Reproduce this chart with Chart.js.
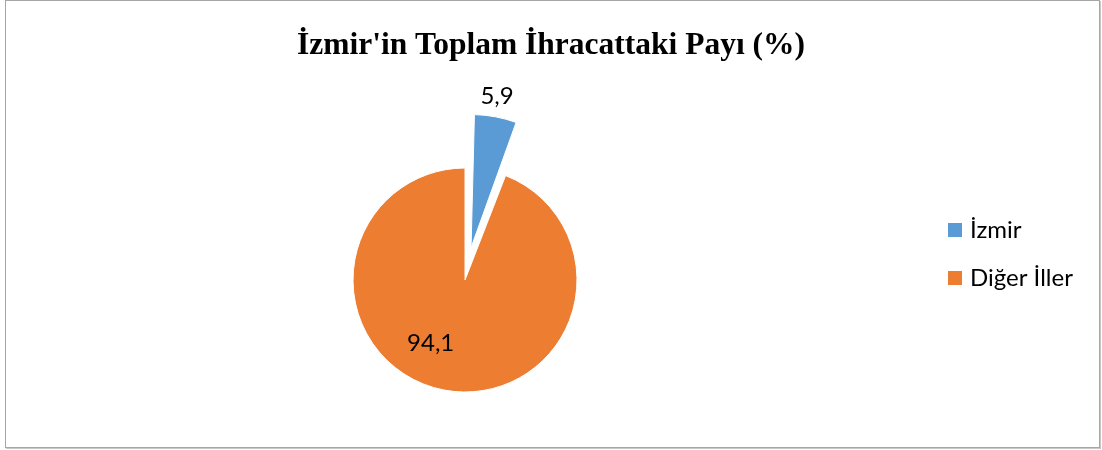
<!DOCTYPE html>
<html>
<head>
<meta charset="utf-8">
<script src="https://cdn.jsdelivr.net/npm/chart.js@4"></script>
<style>
  html, body { margin: 0; padding: 0; background: #fff; }
  #wrap { position: relative; width: 1102px; height: 450px; }
  #frame { position: absolute; left: 5px; top: 0; width: 1093px; height: 446px; border: 1px solid #a6a6a6; box-shadow: 1px 1px 0 #c8c8c8; }
  #chart { position: absolute; left: 0; top: 0; }
</style>
</head>
<body>
<div id="wrap">
  <div id="frame"></div>
  <canvas id="chart" width="1102" height="450"></canvas>
</div>
<script>
const titleText = "İzmir'in Toplam İhracattaki Payı (%)";
const labels = ["İzmir", "Diğer İller"];
const values = [5.9, 94.1];
const colors = ["#5b9bd5", "#ed7d31"];
const explode = [54, 0]; // wanted shift of each slice, px

// position of each value label: extra angle (deg) and distance as part of radius
const labelAngle = [-1, 18];
const labelDist = [1.18, 0.64];

// Chart.js moves an arc by offset/4 * (2 - sin(circumference)); undo that
const total = values.reduce((a, b) => a + b, 0);
function shiftFactor(v) {
    const circ = v / total * Math.PI * 2;
    return (2 - Math.sin(Math.min(Math.PI, circ))) / 4;
}
const arcOffsets = explode.map((e, i) => e === 0 ? 0 : e / shiftFactor(values[i]));

const valueLabels = {
    id: "valueLabels",
    afterDatasetsDraw(chart) {
        const ctx = chart.ctx;
        const meta = chart.getDatasetMeta(0);
        ctx.save();
        ctx.font = "24px Lato";
        ctx.fillStyle = "#000";
        ctx.textAlign = "center";
        ctx.textBaseline = "middle";
        meta.data.forEach((arc, i) => {
            const p = arc.getProps(["x", "y", "startAngle", "endAngle", "outerRadius"], true);
            const mid = (p.startAngle + p.endAngle) / 2;
            const cx = p.x + Math.cos(mid) * explode[i];
            const cy = p.y + Math.sin(mid) * explode[i];
            const a = mid + labelAngle[i] * Math.PI / 180;
            const r = p.outerRadius * labelDist[i];
            ctx.fillText(values[i].toString().replace(".", ","), cx + Math.cos(a) * r, cy + Math.sin(a) * r);
        });
        ctx.restore();
    }
};

const sideLegend = {
    id: "sideLegend",
    afterDraw(chart) {
        const ctx = chart.ctx;
        ctx.save();
        ctx.font = "24px Lato";
        ctx.textBaseline = "middle";
        labels.forEach((lab, i) => {
            const y = 230 + i * 48;
            ctx.fillStyle = colors[i];
            ctx.fillRect(948, y - 7, 14, 14);
            ctx.fillStyle = "#000";
            ctx.fillText(lab, 970, y);
        });
        ctx.restore();
    }
};

const topTitle = {
    id: "topTitle",
    afterDraw(chart) {
        const ctx = chart.ctx;
        ctx.save();
        ctx.font = "bold 31.5px 'Liberation Serif'";
        ctx.fillStyle = "#000";
        ctx.textAlign = "center";
        ctx.textBaseline = "alphabetic";
        ctx.fillText(titleText, 551, 54);
        ctx.restore();
    }
};

new Chart(document.getElementById("chart"), {
    type: "pie",
    data: {
        labels: labels,
        datasets: [{
            data: values,
            backgroundColor: colors,
            borderColor: "#ffffff",
            borderWidth: 1,
            offset: arcOffsets,
            radius: 112
        }]
    },
    options: {
        responsive: false,
        animation: false,
        layout: { padding: { left: 0, right: 172, top: 110, bottom: 0 } },
        plugins: {
            legend: { display: false },
            title: { display: false },
            tooltip: { enabled: false }
        }
    },
    plugins: [valueLabels, sideLegend, topTitle]
});
</script>
</body>
</html>
